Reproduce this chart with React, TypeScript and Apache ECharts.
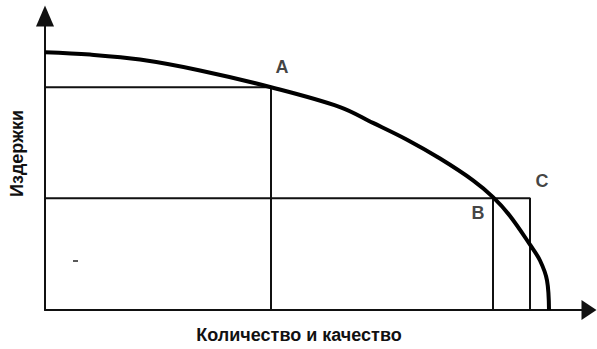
import React, { useEffect, useRef } from "react";
import * as echarts from "echarts";

// Curve (x, y) in chart units
const curvePoints: [number, number][] = [
  [0, 260.5], [45, 258], [95, 253], [155, 242], [226, 225], [295, 205],
  [328, 189], [362, 172], [395, 153], [428, 131], [448, 114], [465, 95],
  [485, 66], [495, 50], [502, 30], [504, 0],
];
const lineA: [number, number][] = [[0, 225], [226, 225], [226, 0]];
const lineC: [number, number][] = [[0, 113], [485, 113], [485, 0]];
const lineB: [number, number][] = [[448, 113], [448, 0]];
const pointLabels = ["A", "B", "C"];
const labelPositions: [number, number][] = [[237, 245], [433, 98], [497, 130]];
const xAxisName = "Количество и качество";
const yAxisName = "Издержки";

const FONT = "'Liberation Sans', Arial, sans-serif";

export default function App() {
  const ref = useRef<HTMLDivElement>(null);
  useEffect(() => {
    if (!ref.current) return;
    const chart = echarts.init(ref.current, undefined, { renderer: "svg" });
    const thin = { color: "#111", width: 2 };
    chart.setOption({
      animation: false,
      backgroundColor: "#fff",
      grid: { left: 45, right: 8, top: 16, bottom: 36 },
      xAxis: {
        type: "value",
        min: 0,
        max: 544,
        name: xAxisName,
        nameLocation: "middle",
        nameGap: 16,
        nameTextStyle: {
          color: "#111", fontSize: 18, fontWeight: "bold", fontFamily: FONT,
          padding: [0, 36, 0, 0],
        },
        axisLine: { show: true, lineStyle: { color: "#111", width: 2 }, symbol: ["none", "triangle"], symbolSize: [20, 15] },
        axisTick: { show: false },
        axisLabel: { show: false },
        splitLine: { show: false },
      },
      yAxis: {
        type: "value",
        min: 0,
        max: 297,
        name: yAxisName,
        nameLocation: "middle",
        nameGap: 19,
        nameRotate: 90,
        nameTextStyle: {
          color: "#111", fontSize: 18, fontWeight: "bold", fontFamily: FONT,
          padding: [0, 0, 0, 19],
        },
        axisLine: { show: true, lineStyle: { color: "#111", width: 2 }, symbol: ["none", "triangle"], symbolSize: [18, 21] },
        axisTick: { show: false },
        axisLabel: { show: false },
        splitLine: { show: false },
      },
      series: [
        { type: "line", data: lineA, showSymbol: false, lineStyle: thin, silent: true },
        { type: "line", data: lineC, showSymbol: false, lineStyle: thin, silent: true },
        { type: "line", data: lineB, showSymbol: false, lineStyle: thin, silent: true },
        {
          type: "line",
          data: curvePoints,
          showSymbol: false,
          smooth: 0.35,
          lineStyle: { color: "#000", width: 4 },
          silent: true,
        },
        {
          type: "scatter",
          symbolSize: 0,
          data: pointLabels.map((n, i) => ({ name: n, value: labelPositions[i] })),
          label: {
            show: true,
            position: "inside",
            formatter: "{b}",
            color: "#111",
            fontSize: 18,
            fontWeight: "bold",
            fontFamily: FONT,
          },
          silent: true,
        },
      ],
      graphic: [
        { type: "line", shape: { x1: 73, y1: 261, x2: 78, y2: 261 }, style: { stroke: "#222", lineWidth: 1.5 } },
      ],
    });
    return () => chart.dispose();
  }, []);
  return (
    <div
      ref={ref}
      style={{ position: "fixed", left: 0, top: 0, width: 597, height: 349 }}
    />
  );
}
